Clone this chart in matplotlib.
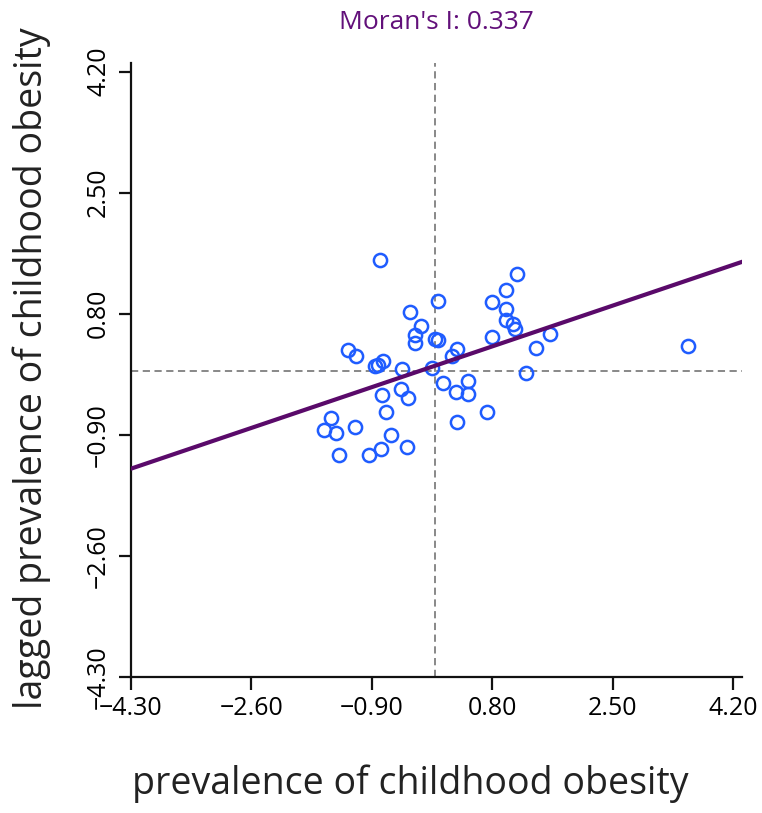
import numpy as np
import matplotlib
matplotlib.use("Agg")
import matplotlib.pyplot as plt

# standardized prevalence (x) and its spatial lag (y)
obesity = [-0.78, 1.15, 1.00, 0.80, 0.03, 1.00, -0.36, -0.20, 0.99, 1.10,
           1.12, -0.29, -0.29, 0.00, 0.04, 0.80, 1.61, 1.42, -1.24, -1.12,
           0.30, 0.23, -0.74, -0.81, -0.86, -0.47, -0.05, 1.27, 0.11, 0.46,
           -0.48, 0.29, 0.46, -0.75, -0.39, -0.70, 0.73, -1.48, -1.57, -1.40,
           -1.13, 0.30, -0.63, -0.77, -0.94, -0.40, -1.36, 3.56]
lagged = [1.55, 1.36, 1.13, 0.97, 0.98, 0.86, 0.82, 0.63, 0.71, 0.65,
          0.59, 0.50, 0.39, 0.45, 0.43, 0.47, 0.51, 0.32, 0.29, 0.20,
          0.30, 0.21, 0.14, 0.08, 0.06, 0.02, 0.03, -0.04, -0.18, -0.14,
          -0.26, -0.30, -0.33, -0.34, -0.39, -0.58, -0.58, -0.67, -0.83, -0.87,
          -0.79, -0.72, -0.91, -1.10, -1.19, -1.07, -1.18, 0.35]

morans_i = 0.337
intercept = 0.07
ticks = [-4.30, -2.60, -0.90, 0.80, 2.50, 4.20]
tick_labels = ["\u22124.30", "\u22122.60", "\u22120.90", "0.80", "2.50", "4.20"]

sans = ["Open Sans", "DejaVu Sans"]

fig = plt.figure(figsize=(7.62, 8.13), dpi=100)
ax = fig.add_axes([0.1715, 0.1676, 0.8019, 0.7549])

lo, hi = -4.30, 4.32
ax.set_xlim(lo, hi)
ax.set_ylim(lo, hi)

ax.axvline(0, color="#7f7f7f", lw=1.3, ls=(0, (4, 2.5)), zorder=1)
ax.axhline(0, color="#7f7f7f", lw=1.3, ls=(0, (4, 2.5)), zorder=1)

ax.plot(obesity, lagged, "o", ms=9.5, mfc="none", mec="#1f5cff", mew=1.8, zorder=2)

xs = np.array([lo, hi])
ax.plot(xs, intercept + morans_i * xs, color="#5a0a6a", lw=3, zorder=3)

for s in ["top", "right"]:
    ax.spines[s].set_visible(False)
for s in ["left", "bottom"]:
    ax.spines[s].set_linewidth(1.6)
    ax.spines[s].set_color("#111111")

ax.set_xticks(ticks)
ax.set_xticklabels(tick_labels, family=sans, fontsize=18)
ax.set_yticks(ticks)
ax.set_yticklabels(tick_labels, family=sans, fontsize=18, rotation=90, va="center")
ax.tick_params(length=9, width=1.6, color="#111111", pad=5)

fig.text(0.573, 0.972, "Moran's I: 0.337", ha="center", va="center",
         family=sans, fontsize=19, color="#62107a")
fig.text(0.539, 0.036, "prevalence of childhood obesity", ha="center", va="center",
         family=sans, fontsize=27, color="#222222")
fig.text(0.042, 0.547, "lagged prevalence of childhood obesity", ha="center", va="center",
         rotation=90, family=sans, fontsize=27, color="#222222")

fig.savefig("out.png", dpi=100)
